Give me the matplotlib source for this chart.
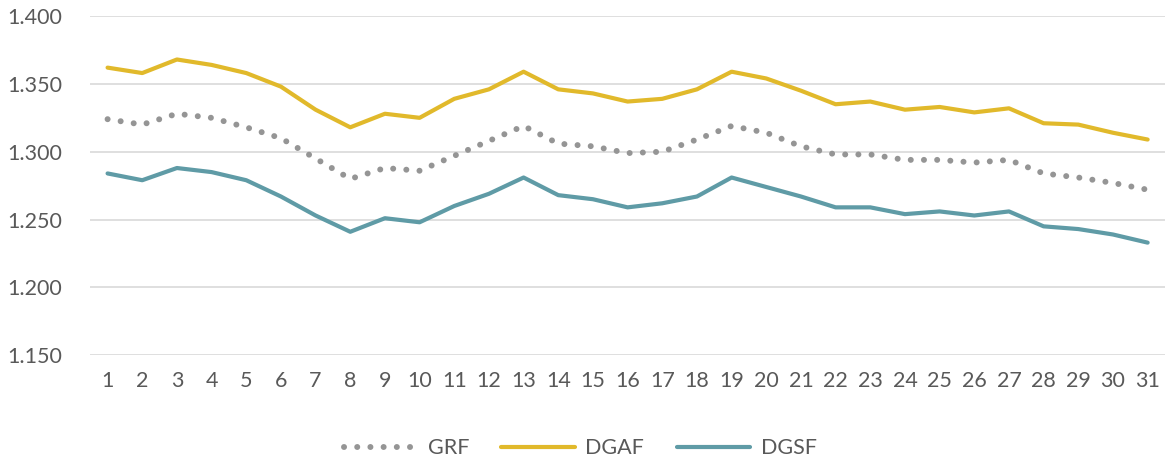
import matplotlib
matplotlib.use('Agg')
import matplotlib.pyplot as plt

days = list(range(1, 32))

grf = [1.324, 1.320, 1.328, 1.325, 1.318, 1.310, 1.295, 1.280, 1.288, 1.286,
       1.297, 1.308, 1.319, 1.306, 1.304, 1.299, 1.300, 1.309, 1.319, 1.314,
       1.304, 1.298, 1.298, 1.294, 1.294, 1.292, 1.294, 1.284, 1.281, 1.277,
       1.272]
dgaf = [1.362, 1.358, 1.368, 1.364, 1.358, 1.348, 1.331, 1.318, 1.328, 1.325,
        1.339, 1.346, 1.359, 1.346, 1.343, 1.337, 1.339, 1.346, 1.359, 1.354,
        1.345, 1.335, 1.337, 1.331, 1.333, 1.329, 1.332, 1.321, 1.320, 1.314,
        1.309]
dgsf = [1.284, 1.279, 1.288, 1.285, 1.279, 1.267, 1.253, 1.241, 1.251, 1.248,
        1.260, 1.269, 1.281, 1.268, 1.265, 1.259, 1.262, 1.267, 1.281, 1.274,
        1.267, 1.259, 1.259, 1.254, 1.256, 1.253, 1.256, 1.245, 1.243, 1.239,
        1.233]
yticks = [1.150, 1.200, 1.250, 1.300, 1.350, 1.400]

plt.rcParams['font.family'] = ['Lato', 'DejaVu Sans']
text_color = '#595959'

fig = plt.figure(figsize=(11.72, 4.73), dpi=100)
ax = fig.add_axes([0.077, 0.249, 0.917, 0.717])

ax.plot(days, grf, color='#959595', lw=4.3, linestyle=(0, (0.01, 2.2)),
        dash_capstyle='round', label='GRF')
ax.plot(days, dgaf, color='#E1B92B', lw=3.0, label='DGAF', solid_capstyle='round')
ax.plot(days, dgsf, color='#5F9BA6', lw=3.0, label='DGSF', solid_capstyle='round')

ax.set_ylim(1.15, 1.40)
ax.set_xlim(0.5, 31.5)
ax.set_yticks(yticks)
ax.set_yticklabels(['%.3f' % v for v in yticks])
ax.set_xticks(days)
ax.yaxis.grid(True, color='#D9D9D9', lw=1.2)
ax.set_axisbelow(True)
for s in ax.spines.values():
    s.set_visible(False)
ax.tick_params(axis='both', length=0, labelsize=15.5, colors=text_color)
ax.tick_params(axis='y', pad=20)
ax.tick_params(axis='x', pad=11)

leg = fig.legend(loc='lower center', ncol=3, frameon=False, fontsize=15.5,
                 bbox_to_anchor=(0.495, -0.01), handlelength=3.4,
                 columnspacing=1.5, handletextpad=0.5)
for t in leg.get_texts():
    t.set_color(text_color)

fig.savefig('out.png', dpi=100)
